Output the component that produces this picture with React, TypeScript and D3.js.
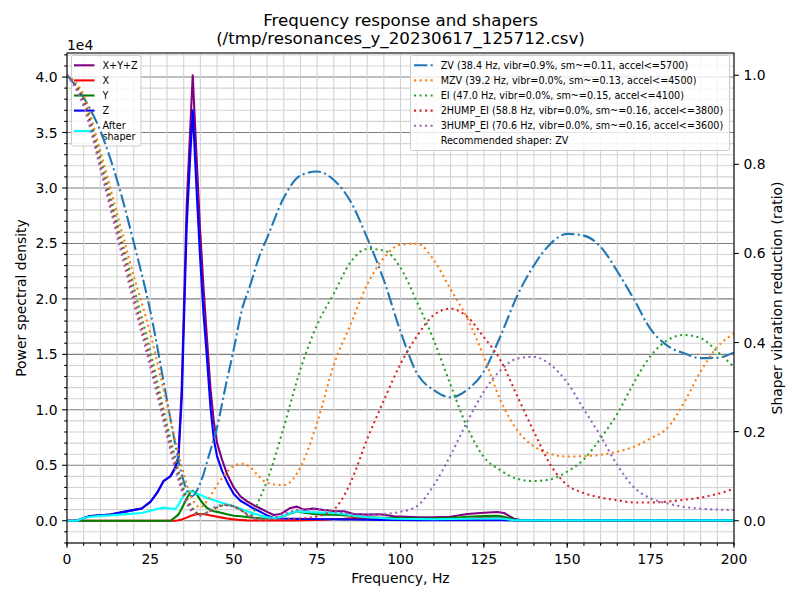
import * as d3 from 'd3';

// PSD bins (Hz) and measured values
const FREQS = [
  0, 3, 5, 7, 10, 13, 16, 19, 22.4, 25, 27, 29, 31, 32.4, 33.4, 34.4, 35.9, 36.9, 37.7, 38.9,
  39.9, 40.9, 42, 43, 44, 45, 46.5, 48, 50, 52, 54, 56, 58, 60, 62, 64, 67, 69, 71, 74,
  77, 80, 83, 86, 90, 94, 98, 105, 110, 115, 120, 125, 129, 131, 134, 136, 145, 160, 180, 200,
];
const PSD_SUM = [
  0, 0, 250, 420, 500, 550, 730, 910, 1100, 1700, 2500, 3600, 4000, 4800, 5800, 12000, 28500, 35000, 40160, 32500,
  26300, 21200, 16300, 12000, 9000, 7000, 5500, 4200, 3000, 2200, 1750, 1400, 1100, 800, 520, 600, 1150, 1270, 1000, 1090,
  970, 880, 850, 600, 550, 580, 400, 300, 300, 360, 600, 720, 780, 700, 180, 60, 60, 60, 60, 60,
];
const PSD_X = [
  0, 0, 0, 0, 0, 0, 0, 0, 0, 0, 0, 0, 0, 0, 50, 120, 280, 420, 500, 580,
  600, 600, 540, 480, 420, 360, 280, 200, 120, 70, 30, 20, 20, 20, 20, 20, 20, 30, 40, 60,
  100, 150, 180, 240, 220, 200, 180, 160, 150, 160, 200, 260, 300, 250, 50, 20, 10, 10, 10, 10,
];
const PSD_Y = [
  0, 0, 0, 0, 0, 0, 0, 0, 0, 0, 0, 0, 0, 300, 550, 1100, 2000, 2550, 2700, 2400,
  1900, 1500, 1150, 1000, 850, 800, 700, 580, 450, 400, 330, 270, 210, 200, 200, 300, 650, 850, 720, 600,
  550, 550, 500, 420, 300, 270, 240, 200, 200, 240, 360, 420, 450, 350, 100, 30, 20, 20, 20, 20,
];
const PSD_Z = [
  0, 0, 250, 420, 500, 550, 730, 910, 1100, 1700, 2500, 3600, 4000, 4700, 5600, 11000, 26600, 32600, 37000, 29500,
  23800, 18800, 14500, 10300, 7400, 5800, 4500, 3500, 2400, 1800, 1450, 1100, 800, 480, 240, 200, 180, 170, 160, 150,
  140, 130, 120, 110, 100, 80, 60, 50, 40, 40, 40, 40, 40, 40, 30, 30, 30, 30, 30, 30,
];
const PSD_AFTER = [
  0, 0, 250, 360, 440, 480, 550, 620, 690, 900, 1050, 1180, 1100, 1060, 1400, 2000, 2600, 2670, 2600, 2420,
  2350, 2200, 2050, 1950, 1850, 1750, 1600, 1480, 1300, 1100, 850, 660, 480, 300, 240, 300, 700, 850, 800, 760,
  730, 700, 600, 440, 320, 240, 180, 150, 140, 150, 180, 200, 220, 180, 40, 30, 30, 30, 30, 30,
];

// shaper response curves
const SHAPER_FREQS = [
  0, 5, 10, 15, 20, 25, 30, 32.5, 35, 37.5, 40, 42.5, 45, 47.5, 50, 52.5, 55, 57.5,
  60, 65, 70, 75, 80, 85, 90, 95, 100, 105, 110, 115, 120, 125, 130, 135, 140, 145,
  150, 155, 160, 165, 170, 175, 180, 185, 190, 195, 200,
];
const ZV = [
  1, 0.95, 0.875, 0.765, 0.625, 0.47, 0.27, 0.17, 0.088, 0.055, 0.085, 0.145, 0.21, 0.3, 0.385, 0.475, 0.53, 0.59,
  0.635, 0.725, 0.775, 0.784, 0.765, 0.717, 0.635, 0.54, 0.425, 0.33, 0.293, 0.277, 0.294, 0.335, 0.415, 0.505, 0.573, 0.622,
  0.644, 0.64, 0.615, 0.56, 0.497, 0.43, 0.393, 0.376, 0.365, 0.366, 0.378,
];
const MZV = [
  1, 0.955, 0.83, 0.69, 0.55, 0.42, 0.26, 0.18, 0.105, 0.05, 0.03, 0.05, 0.08, 0.105, 0.123, 0.128, 0.12, 0.1,
  0.085, 0.08, 0.12, 0.22, 0.35, 0.44, 0.53, 0.59, 0.62, 0.622, 0.585, 0.52, 0.455, 0.368, 0.27, 0.203, 0.167, 0.15,
  0.144, 0.145, 0.148, 0.155, 0.166, 0.185, 0.208, 0.265, 0.335, 0.39, 0.42,
];
const EI = [
  1, 0.945, 0.815, 0.67, 0.525, 0.38, 0.215, 0.14, 0.07, 0.03, 0.015, 0.02, 0.03, 0.035, 0.032, 0.022, 0.01, 0.045,
  0.09, 0.21, 0.34, 0.44, 0.51, 0.58, 0.61, 0.607, 0.568, 0.49, 0.405, 0.305, 0.21, 0.143, 0.113, 0.094, 0.089, 0.093,
  0.11, 0.138, 0.185, 0.24, 0.31, 0.37, 0.405, 0.417, 0.41, 0.38, 0.345,
];
const HUMP2_EI = [
  1, 0.94, 0.8, 0.655, 0.505, 0.36, 0.2, 0.125, 0.062, 0.025, 0.012, 0.02, 0.03, 0.035, 0.032, 0.022, 0.01, 0.003,
  0.002, 0.003, 0.005, 0.01, 0.025, 0.085, 0.183, 0.27, 0.352, 0.415, 0.462, 0.476, 0.458, 0.412, 0.36, 0.28, 0.2, 0.125,
  0.08, 0.062, 0.052, 0.046, 0.041, 0.041, 0.043, 0.047, 0.052, 0.06, 0.072,
];
const HUMP3_EI = [
  1, 0.93, 0.79, 0.64, 0.49, 0.345, 0.19, 0.115, 0.055, 0.02, 0.012, 0.022, 0.033, 0.036, 0.032, 0.022, 0.01, 0.003,
  0.003, 0.015, 0.025, 0.025, 0.02, 0.015, 0.012, 0.015, 0.02, 0.033, 0.08, 0.147, 0.222, 0.29, 0.338, 0.364, 0.368, 0.35,
  0.31, 0.25, 0.19, 0.125, 0.075, 0.05, 0.039, 0.031, 0.027, 0.025, 0.024,
];

const PSD_LABELS = ['X+Y+Z', 'X', 'Y', 'Z'];
const SHAPER_LABELS = [
  'ZV (38.4 Hz, vibr=0.9%, sm~=0.11, accel<=5700)',
  'MZV (39.2 Hz, vibr=0.0%, sm~=0.13, accel<=4500)',
  'EI (47.0 Hz, vibr=0.0%, sm~=0.15, accel<=4100)',
  '2HUMP_EI (58.8 Hz, vibr=0.0%, sm~=0.16, accel<=3800)',
  '3HUMP_EI (70.6 Hz, vibr=0.0%, sm~=0.16, accel<=3600)',
];
const RECOMMENDED = 'Recommended shaper: ZV';

const FONT = 'DejaVu Sans, sans-serif';
const PLOT = { left: 67, right: 734, top: 53, bottom: 543 };
const DOTTED = '2.08 3.44';
const DASHDOT = '13.3 3.33 2.08 3.33';

export default function App() {
  const x = d3.scaleLinear().domain([0, 200]).range([PLOT.left, PLOT.right]);
  const psdMax = d3.max(PSD_SUM) as number;
  const yL = d3.scaleLinear().domain([-0.05 * psdMax, 1.05 * psdMax]).range([PLOT.bottom, PLOT.top]);
  const yR = d3.scaleLinear().domain([-0.05, 1.05]).range([PLOT.bottom, PLOT.top]);

  const psdLine = (vals: number[]) =>
    d3.line<number>().x((_, i) => x(FREQS[i])).y((d) => yL(d))(vals) ?? '';
  const shaperLine = (vals: number[]) =>
    d3.line<number>().x((_, i) => x(SHAPER_FREQS[i])).y((d) => yR(d)).curve(d3.curveMonotoneX)(vals) ?? '';

  const psdSeries = [
    { vals: PSD_SUM, color: 'purple' },
    { vals: PSD_X, color: 'red' },
    { vals: PSD_Y, color: 'green' },
    { vals: PSD_Z, color: 'blue' },
    { vals: PSD_AFTER, color: 'cyan' },
  ];
  const shapers = [
    { vals: ZV, color: '#1f77b4', dash: DASHDOT },
    { vals: MZV, color: '#ff7f0e', dash: DOTTED },
    { vals: EI, color: '#2ca02c', dash: DOTTED },
    { vals: HUMP2_EI, color: '#d62728', dash: DOTTED },
    { vals: HUMP3_EI, color: '#9467bd', dash: DOTTED },
  ];

  const xMajor = d3.range(0, 201, 25);
  const xMinor = d3.range(0, 201, 5);
  const [lo, hi] = yL.domain();
  const yMajor = d3.range(0, 40001, 5000);
  const yMinor = d3.range(-2000, 42001, 1000).filter((v) => v >= lo && v <= hi && v % 5000 !== 0);
  const rMajor = d3.range(0, 1.01, 0.2);

  const legendRowsL = [65.3, 80.4, 95.5, 110.6];
  const legendRowsR = [65.3, 80.4, 95.5, 110.6, 125.7, 140.8];

  return (
    <svg width={800} height={600} style={{ position: 'absolute', left: 0, top: 0 }} fontFamily={FONT}>
      <rect width={800} height={600} fill="white" />
      <defs>
        <clipPath id="plot-clip">
          <rect x={PLOT.left} y={PLOT.top} width={PLOT.right - PLOT.left} height={PLOT.bottom - PLOT.top} />
        </clipPath>
      </defs>

      {/* title */}
      <text x={400.5} y={20} textAnchor="middle" dominantBaseline="central" fontSize={16.67}>
        Frequency response and shapers
      </text>
      <text x={400.5} y={38} textAnchor="middle" dominantBaseline="central" fontSize={16.67}>
        (/tmp/resonances_y_20230617_125712.csv)
      </text>

      {/* grid */}
      <g strokeWidth={1.1}>
        {yMinor.map((v) => (
          <line key={'gm' + v} x1={PLOT.left} x2={PLOT.right} y1={yL(v)} y2={yL(v)} stroke="lightgrey" />
        ))}
        {yMajor.map((v) => (
          <line key={'gM' + v} x1={PLOT.left} x2={PLOT.right} y1={yL(v)} y2={yL(v)} stroke="grey" />
        ))}
        {xMinor.map((v) => (
          <line key={'gx' + v} x1={x(v)} x2={x(v)} y1={PLOT.top} y2={PLOT.bottom} stroke="lightgrey" />
        ))}
      </g>

      {/* PSD curves */}
      <g clipPath="url(#plot-clip)" fill="none" strokeWidth={2.08} strokeLinejoin="round">
        {psdSeries.map((s) => (
          <path key={s.color} d={psdLine(s.vals)} stroke={s.color} />
        ))}
      </g>

      {/* left legend */}
      <g fontSize={9.64}>
        <rect x={71.5} y={55.5} width={69.5} height={90.5} rx={2} fill="white" fillOpacity={0.8} stroke="#cccccc" strokeWidth={1} />
        {PSD_LABELS.map((lab, i) => (
          <g key={lab}>
            <line x1={74} x2={94.5} y1={legendRowsL[i]} y2={legendRowsL[i]} stroke={psdSeries[i].color} strokeWidth={2.08} />
            <text x={102.5} y={legendRowsL[i]} dominantBaseline="central">{lab}</text>
          </g>
        ))}
        <line x1={74} x2={94.5} y1={131} y2={131} stroke="cyan" strokeWidth={2.08} />
        <text x={102.5} y={125.3} dominantBaseline="central">After</text>
        <text x={102.5} y={136.7} dominantBaseline="central">shaper</text>
      </g>

      {/* shaper curves (twin axis, drawn on top) */}
      <g clipPath="url(#plot-clip)" fill="none" strokeWidth={2.08}>
        {shapers.map((s) => (
          <path key={s.color} d={shaperLine(s.vals)} stroke={s.color} strokeDasharray={s.dash} />
        ))}
      </g>

      {/* spines */}
      <rect x={PLOT.left} y={PLOT.top} width={PLOT.right - PLOT.left} height={PLOT.bottom - PLOT.top} fill="none" stroke="black" strokeWidth={1.1} />

      {/* bottom axis */}
      <g stroke="black" strokeWidth={1.1}>
        {xMinor.map((v) => (
          <line key={'xt' + v} x1={x(v)} x2={x(v)} y1={PLOT.bottom} y2={PLOT.bottom + 2.78} />
        ))}
        {xMajor.map((v) => (
          <line key={'xT' + v} x1={x(v)} x2={x(v)} y1={PLOT.bottom} y2={PLOT.bottom + 4.86} />
        ))}
        {yMinor.map((v) => (
          <line key={'yt' + v} x1={PLOT.left - 2.78} x2={PLOT.left} y1={yL(v)} y2={yL(v)} />
        ))}
        {yMajor.map((v) => (
          <line key={'yT' + v} x1={PLOT.left - 4.86} x2={PLOT.left} y1={yL(v)} y2={yL(v)} />
        ))}
        {rMajor.map((v) => (
          <line key={'rT' + v} x1={PLOT.right} x2={PLOT.right + 4.86} y1={yR(v)} y2={yR(v)} />
        ))}
      </g>
      <g fontSize={13.9}>
        {xMajor.map((v) => (
          <text key={'xl' + v} x={x(v)} y={558.5} textAnchor="middle" dominantBaseline="central">{v}</text>
        ))}
        {yMajor.map((v) => (
          <text key={'yl' + v} x={57.5} y={yL(v)} textAnchor="end" dominantBaseline="central">
            {(v / 10000).toFixed(1)}
          </text>
        ))}
        {rMajor.map((v) => (
          <text key={'rl' + v} x={743.5} y={yR(v)} dominantBaseline="central">{v.toFixed(1)}</text>
        ))}
        <text x={PLOT.left} y={45} dominantBaseline="central">1e4</text>
        <text x={400.5} y={578} textAnchor="middle" dominantBaseline="central">Frequency, Hz</text>
        <text transform="translate(21,298) rotate(-90)" textAnchor="middle" dominantBaseline="central">
          Power spectral density
        </text>
        <text transform="translate(777,298) rotate(-90)" textAnchor="middle" dominantBaseline="central">
          Shaper vibration reduction (ratio)
        </text>
      </g>

      {/* right legend */}
      <g fontSize={9.64}>
        <rect x={410.5} y={55.5} width={319} height={95} rx={2} fill="white" fillOpacity={0.8} stroke="#cccccc" strokeWidth={1} />
        {SHAPER_LABELS.map((lab, i) => (
          <g key={lab}>
            <line x1={414} x2={435} y1={legendRowsR[i]} y2={legendRowsR[i]} stroke={shapers[i].color} strokeWidth={2.08} strokeDasharray={shapers[i].dash} />
            <text x={440.7} y={legendRowsR[i]} dominantBaseline="central">{lab}</text>
          </g>
        ))}
        <text x={440.7} y={legendRowsR[5]} dominantBaseline="central">{RECOMMENDED}</text>
      </g>
    </svg>
  );
}
